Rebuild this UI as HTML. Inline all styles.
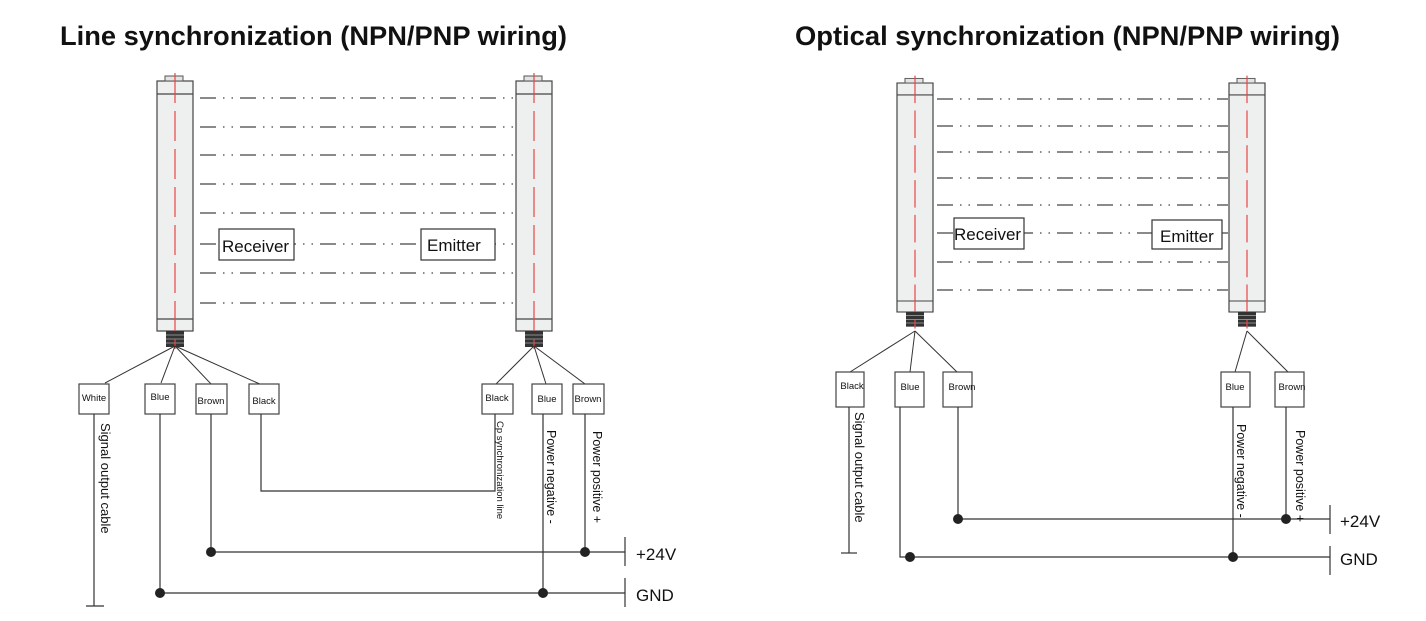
<!DOCTYPE html>
<html><head><meta charset="utf-8"><style>
body{margin:0;background:#fff}
svg{display:block;font-family:"Liberation Sans",sans-serif}
</style></head><body>
<svg width="1426" height="621" viewBox="0 0 1426 621" xmlns="http://www.w3.org/2000/svg">
<defs>
<g id="bar">
  <rect x="0" y="0" width="36" height="250" fill="#eef0ef" stroke="#444" stroke-width="1.2"/>
  <rect x="8" y="-5" width="18" height="5" fill="#e4e4e4" stroke="#555" stroke-width="1"/>
  <line x1="0" y1="13" x2="36" y2="13" stroke="#444" stroke-width="1.2"/>
  <line x1="0" y1="238" x2="36" y2="238" stroke="#444" stroke-width="1.2"/>
  <rect x="9" y="250" width="18" height="16" fill="#333"/>
  <line x1="9" y1="254" x2="27" y2="254" stroke="#aaa" stroke-width="0.8"/>
  <line x1="9" y1="258" x2="27" y2="258" stroke="#aaa" stroke-width="0.8"/>
  <line x1="9" y1="262" x2="27" y2="262" stroke="#aaa" stroke-width="0.8"/>
  <line x1="18" y1="-8" x2="18" y2="268" stroke="#e84545" stroke-width="1.2" stroke-dasharray="30 8"/>
</g>
</defs>
<text x="60" y="45" font-size="27" font-weight="bold" fill="#111" textLength="507" lengthAdjust="spacingAndGlyphs">Line synchronization (NPN/PNP wiring)</text>
<text x="795" y="45" font-size="27" font-weight="bold" fill="#111" textLength="545" lengthAdjust="spacingAndGlyphs">Optical synchronization (NPN/PNP wiring)</text>

<!-- LEFT -->
<use href="#bar" x="157" y="81"/>
<use href="#bar" x="516" y="81"/>
<g stroke="#444" stroke-width="1.2" stroke-dasharray="16 7 1.5 7 1.5 7" fill="none">
<line x1="200" y1="98" x2="514" y2="98"/>
<line x1="200" y1="127" x2="514" y2="127"/>
<line x1="200" y1="155" x2="514" y2="155"/>
<line x1="200" y1="184" x2="514" y2="184"/>
<line x1="200" y1="213" x2="514" y2="213"/>
<line x1="200" y1="244" x2="514" y2="244"/>
<line x1="200" y1="273" x2="514" y2="273"/>
<line x1="200" y1="303" x2="514" y2="303"/>
</g>
<rect x="219" y="229" width="75" height="31" fill="#fff" stroke="#333" stroke-width="1.2"/>
<text x="222" y="252" font-size="17" fill="#111">Receiver</text>
<rect x="421" y="229" width="74" height="31" fill="#fff" stroke="#333" stroke-width="1.2"/>
<text x="427" y="251" font-size="17" fill="#111">Emitter</text>

<g stroke="#333" stroke-width="1" fill="none">
<line x1="175" y1="346" x2="105" y2="383"/>
<line x1="175" y1="346" x2="161" y2="383"/>
<line x1="175" y1="346" x2="212" y2="385"/>
<line x1="175" y1="346" x2="262" y2="385"/>
<line x1="534" y1="346" x2="496" y2="384"/>
<line x1="534" y1="346" x2="546" y2="384"/>
<line x1="534" y1="346" x2="585" y2="384"/>
</g>
<g stroke="#444" stroke-width="1.2" fill="#fff">
<rect x="79" y="384" width="30" height="30"/>
<rect x="145" y="384" width="30" height="30"/>
<rect x="196" y="384" width="31" height="30"/>
<rect x="249" y="384" width="30" height="30"/>
<rect x="482" y="384" width="31" height="30"/>
<rect x="532" y="384" width="30" height="30"/>
<rect x="573" y="384" width="31" height="30"/>
</g>
<g font-size="9.5" fill="#111" text-anchor="middle">
<text x="94" y="401">White</text>
<text x="160" y="400">Blue</text>
<text x="211" y="404">Brown</text>
<text x="264" y="404">Black</text>
<text x="497" y="401">Black</text>
<text x="547" y="402">Blue</text>
<text x="588" y="402">Brown</text>
</g>
<g stroke="#333" stroke-width="1.2" fill="none">
<line x1="94" y1="414" x2="94" y2="606"/>
<line x1="86" y1="606" x2="104" y2="606"/>
<line x1="160" y1="414" x2="160" y2="593"/>
<line x1="211" y1="414" x2="211" y2="552"/>
<polyline points="261,414 261,491 495,491 495,414"/>
<line x1="543" y1="414" x2="543" y2="593"/>
<line x1="585" y1="414" x2="585" y2="552"/>
<line x1="211" y1="552" x2="625" y2="552"/>
<line x1="160" y1="593" x2="625" y2="593"/>
<line x1="625" y1="537" x2="625" y2="566"/>
<line x1="625" y1="578" x2="625" y2="607"/>
</g>
<g fill="#222">
<circle cx="211" cy="552" r="5"/><circle cx="585" cy="552" r="5"/>
<circle cx="160" cy="593" r="5"/><circle cx="543" cy="593" r="5"/>
</g>
<text x="636" y="560" font-size="17" fill="#111">+24V</text>
<text x="636" y="601" font-size="17" fill="#111">GND</text>
<g fill="#111">
<text transform="translate(101,423) rotate(90)" font-size="13">Signal output cable</text>
<text transform="translate(497,421) rotate(90)" font-size="9.5">Cp synchronization line</text>
<text transform="translate(547,430) rotate(90)" font-size="12.5">Power negative -</text>
<text transform="translate(593,431) rotate(90)" font-size="12.5">Power positive +</text>
</g>

<!-- RIGHT -->
<g transform="translate(897,83) scale(1,0.916)"><use href="#bar"/></g>
<g transform="translate(1229,83) scale(1,0.916)"><use href="#bar"/></g>
<g stroke="#444" stroke-width="1.2" stroke-dasharray="16 7 1.5 7 1.5 7" fill="none">
<line x1="937" y1="99" x2="1228" y2="99"/>
<line x1="937" y1="126" x2="1228" y2="126"/>
<line x1="937" y1="152" x2="1228" y2="152"/>
<line x1="937" y1="178" x2="1228" y2="178"/>
<line x1="937" y1="205" x2="1228" y2="205"/>
<line x1="937" y1="233" x2="1228" y2="233"/>
<line x1="937" y1="262" x2="1228" y2="262"/>
<line x1="937" y1="290" x2="1228" y2="290"/>
</g>
<rect x="954" y="218" width="70" height="31" fill="#fff" stroke="#333" stroke-width="1.2"/>
<text x="954" y="240" font-size="17" fill="#111">Receiver</text>
<rect x="1152" y="220" width="70" height="29" fill="#fff" stroke="#333" stroke-width="1.2"/>
<text x="1160" y="242" font-size="17" fill="#111">Emitter</text>

<g stroke="#333" stroke-width="1" fill="none">
<line x1="915" y1="331" x2="850" y2="372"/>
<line x1="915" y1="331" x2="910" y2="372"/>
<line x1="915" y1="331" x2="957" y2="372"/>
<line x1="1247" y1="331" x2="1235" y2="372"/>
<line x1="1247" y1="331" x2="1288" y2="372"/>
</g>
<g stroke="#444" stroke-width="1.2" fill="#fff">
<rect x="836" y="372" width="28" height="35"/>
<rect x="895" y="372" width="29" height="35"/>
<rect x="943" y="372" width="29" height="35"/>
<rect x="1221" y="372" width="29" height="35"/>
<rect x="1275" y="372" width="29" height="35"/>
</g>
<g font-size="9.5" fill="#111" text-anchor="middle">
<text x="852" y="389">Black</text>
<text x="910" y="390">Blue</text>
<text x="962" y="390">Brown</text>
<text x="1235" y="390">Blue</text>
<text x="1292" y="390">Brown</text>
</g>
<g stroke="#333" stroke-width="1.2" fill="none">
<line x1="849" y1="407" x2="849" y2="553"/>
<line x1="841" y1="553" x2="857" y2="553"/>
<polyline points="900,407 900,557 910,557"/>
<line x1="958" y1="407" x2="958" y2="519"/>
<line x1="1233" y1="407" x2="1233" y2="557"/>
<line x1="1286" y1="407" x2="1286" y2="519"/>
<line x1="958" y1="519" x2="1330" y2="519"/>
<line x1="910" y1="557" x2="1330" y2="557"/>
<line x1="1330" y1="505" x2="1330" y2="534"/>
<line x1="1330" y1="546" x2="1330" y2="575"/>
</g>
<g fill="#222">
<circle cx="958" cy="519" r="5"/><circle cx="1286" cy="519" r="5"/>
<circle cx="910" cy="557" r="5"/><circle cx="1233" cy="557" r="5"/>
</g>
<text x="1340" y="527" font-size="17" fill="#111">+24V</text>
<text x="1340" y="565" font-size="17" fill="#111">GND</text>
<g fill="#111">
<text transform="translate(855,412) rotate(90)" font-size="13">Signal output cable</text>
<text transform="translate(1237,424) rotate(90)" font-size="12.5">Power negative -</text>
<text transform="translate(1296,430) rotate(90)" font-size="12.5">Power positive +</text>
</g>
</svg>
</body></html>
